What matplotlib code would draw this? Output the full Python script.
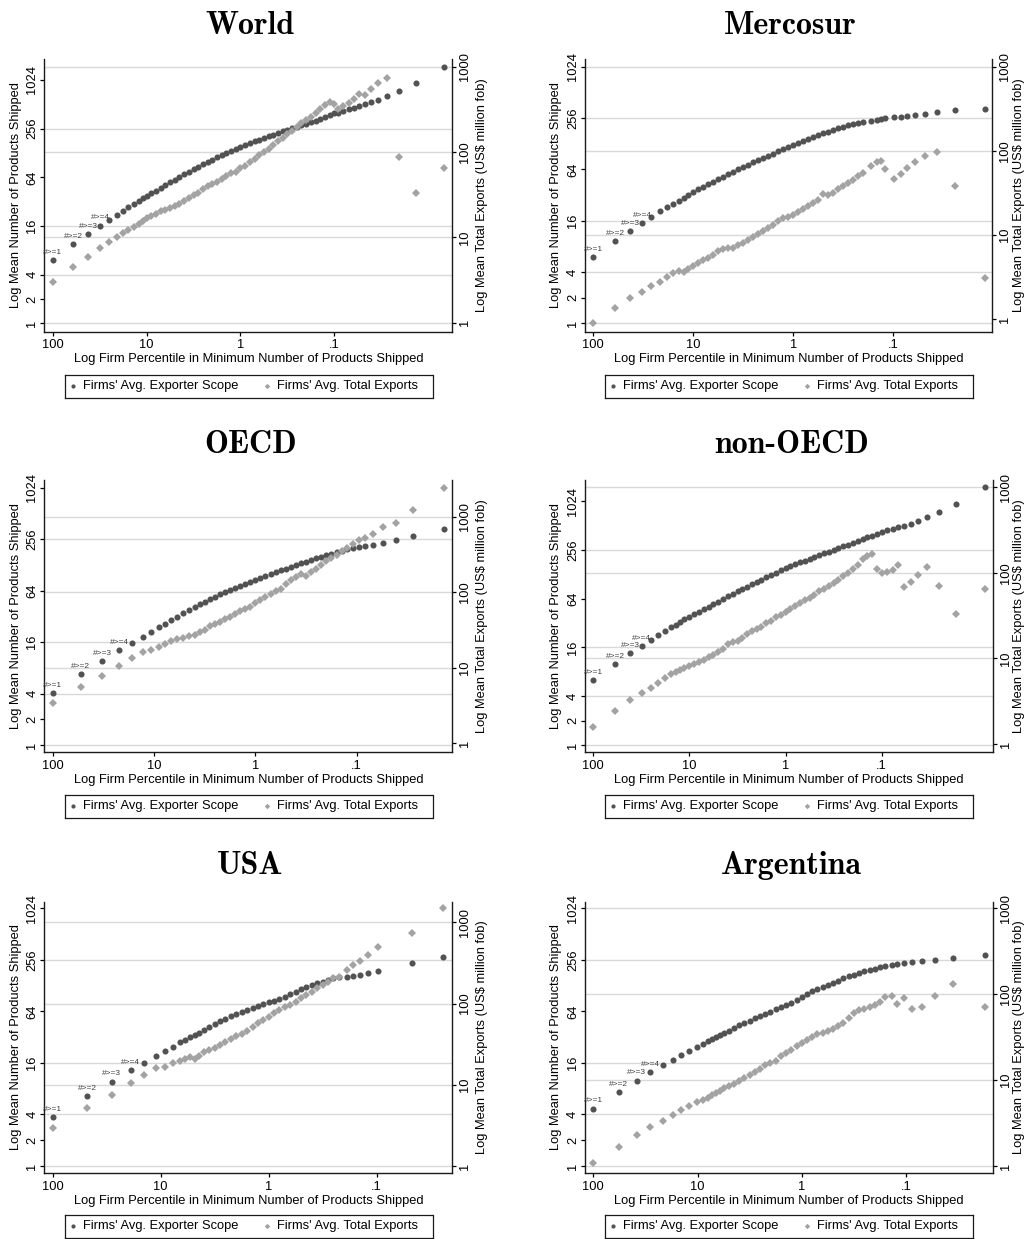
import numpy as np
import matplotlib.pyplot as plt
from matplotlib import transforms
from matplotlib.ticker import NullLocator

plt.rcParams['font.family'] = 'Liberation Sans'

W, H = 1026, 1239
DARK = '#525252'
LIGHT = '#a3a3a3'
GRID = '#d9d9d9'
FS = 9.3

mlabels = ['#>=1', '#>=2', '#>=3', '#>=4']
left_ticks = [1, 2, 4, 16, 64, 256, 1024]
left_grid = [1, 4, 16, 256]
right_ticks = [1, 10, 100, 1000]
right_grid = [10, 100, 1000]
x_ticks = [100, 10, 1, 0.1]
x_ticklabels = ['100', '10', '1', '.1']
legend_labels = ["Firms' Avg. Exporter Scope", "Firms' Avg. Total Exports"]

# ---------------- World ----------------
world_pct = [100, 60.2, 42.0, 31.3, 25.3, 20.8, 17.7, 15.6, 13.7, 12.1, 10.8,
             10, 8.91, 7.94, 7.08, 6.31, 5.62, 5.01, 4.47, 3.98, 3.55, 3.16, 2.82, 2.51, 2.24, 2.0,
             1.78, 1.58, 1.41, 1.26, 1.12, 1.0, 0.891, 0.794, 0.708, 0.631, 0.562, 0.501, 0.447,
             0.398, 0.355, 0.316, 0.282, 0.251, 0.224, 0.2, 0.178, 0.158, 0.141, 0.126, 0.112, 0.1,
             0.0923, 0.0802, 0.0698, 0.0612, 0.0542, 0.0472, 0.0407, 0.034, 0.0273, 0.0203, 0.0136, 0.00679]
world_scope = [6.07, 9.49, 12.7, 16.2, 19.0, 22.1, 24.8, 27.2, 29.9, 32.6, 35.2,
               37.6, 40.6, 43.8, 47.7, 51.4, 55.5, 59.9, 64.6, 69.7, 74.5, 80.4, 86.7, 92.7, 99.1, 105.8,
               113.1, 120.9, 128, 135.5, 143.4, 151.9, 160.8, 168.6, 178.4, 187.1, 196.2, 205.8, 215.7,
               226.3, 237.2, 248.8, 258.5, 268.4, 281.5, 292.4, 306.6, 321.5, 340.4, 360.3, 378, 396.2,
               404, 428, 448, 466, 484, 512, 542, 579, 649, 756, 940, 1497]
world_exports = [2.97, 4.53, 5.93, 7.57, 8.81, 10.0, 11.1, 12.1, 13.3, 14.3, 15.5,
                 16.7, 17.6, 18.9, 20.2, 21.1, 21.9, 23.1, 24.8, 26.9, 28.9, 31.1, 33.4, 36.5, 40.0, 42.2,
                 44.9, 48.3, 52.3, 56.2, 58.9, 64.9, 69.2, 75.7, 82.8, 91.4, 100, 109, 121,
                 133, 147, 163, 178, 196, 217, 237, 259, 284, 319, 355, 382, 365,
                 316, 346, 375, 418, 478, 466, 542, 649, 743, 88.2, 32.8, 64.4]

# ---------------- Mercosur ----------------
merc_pct = [100, 60.3, 42.7, 32.4, 26.3, 21.4, 18.2, 15.8, 14.0, 12.5, 11.2,
            10, 8.91, 7.94, 7.08, 6.31, 5.62, 5.01, 4.47, 3.98, 3.55, 3.16, 2.82, 2.51, 2.24, 2.0,
            1.78, 1.58, 1.41, 1.26, 1.12, 1.0, 0.891, 0.794, 0.708, 0.631, 0.562, 0.501, 0.447,
            0.398, 0.355, 0.316, 0.282, 0.251, 0.224, 0.2,
            0.167, 0.147, 0.134, 0.120, 0.0977, 0.0845, 0.0730, 0.0603, 0.0482, 0.0363, 0.0242, 0.0121]
merc_scope = [5.94, 9.16, 12.2, 14.9, 17.5, 20.6, 22.9, 25.1, 27.2, 29.8, 32.0,
              35.0, 37.6, 40.1, 43.1, 45.9, 49.3, 52.5, 56.4, 60.1, 64.0, 68.2, 72.6, 77.3, 81.6, 86.9,
              92.5, 97.7, 104, 110, 117, 123, 130, 138, 145, 153, 160, 169, 177,
              185, 194, 203, 210, 218, 224, 230,
              234, 243, 247, 254, 261, 265, 270, 278, 288, 301, 318, 326]
merc_exports = [0.888, 1.34, 1.76, 2.09, 2.47, 2.78, 3.13, 3.49, 3.72, 3.65, 3.97,
                4.27, 4.59, 4.99, 5.36, 5.77, 6.49, 6.86, 6.92, 7.05, 7.51, 8.09, 8.78, 9.44, 10.2, 11.0,
                12.0, 13.1, 14.5, 15.7, 16.3, 17.3, 18.5, 20.1, 21.9, 23.7, 25.8, 30.4, 30.1,
                31.8, 34.8, 38.1, 41.4, 45.0, 50.1, 55.0,
                66.6, 72.9, 75.7, 60.8, 46.2, 53.0, 61.9, 72.9, 85.9, 97.7, 38.5, 3.04]

# ---------------- OECD ----------------
oecd_pct = [100, 52.9, 32.4, 22.0, 16.4, 12.9, 10.8, 9.0, 7.85, 6.85, 5.97, 5.21,
            4.47, 3.98, 3.55, 3.16, 2.82, 2.51, 2.24, 2.0, 1.78, 1.58, 1.41, 1.26, 1.12, 1.0,
            0.891, 0.794, 0.708, 0.631, 0.562, 0.501, 0.447, 0.398, 0.355, 0.316, 0.282, 0.251,
            0.224, 0.2, 0.178, 0.158,
            0.1406, 0.1256, 0.1094, 0.0955, 0.082, 0.0685, 0.0546, 0.0409, 0.0276, 0.01374]
oecd_scope = [4.02, 6.71, 9.61, 12.8, 15.7, 18.5, 21.0, 23.8, 26.0, 28.7, 31.4, 34.7,
              37.9, 41.2, 44.2, 47.5, 51.1, 54.4, 57.9, 61.6, 65.6, 69.3, 73.1, 77.1, 81.4, 85.9,
              90.7, 94.8, 100, 105, 110, 116, 121, 126, 133, 140, 146, 153,
              160, 167, 173, 179,
              188, 196, 203, 209, 213, 219, 231, 248, 276, 333]
oecd_exports = [3.45, 5.62, 7.86, 10.7, 13.6, 16.3, 17.2, 19.0, 20.6, 22.6, 24.0, 25.0,
                26.3, 27.4, 29.4, 31.9, 35.7, 37.6, 40.7, 44.7, 47.5, 51.5, 56.4, 59.9, 64.4, 71.2,
                78.8, 85.5, 94.7, 103, 111, 127, 144, 159, 172, 162, 185, 205,
                229, 256, 287, 314,
                351, 388, 434, 491, 516, 583, 729, 824, 1224, 2416]

# ---------------- non-OECD ----------------
noecd_pct = [100, 59.0, 41.2, 31.4, 25.3, 21.1, 17.9, 15.7, 13.8, 12.5, 11.4,
             10, 8.91, 7.94, 7.08, 6.31, 5.62, 5.01, 4.47, 3.98, 3.55, 3.16, 2.82, 2.51, 2.24, 2.0,
             1.78, 1.58, 1.41, 1.26, 1.12, 1.0, 0.891, 0.794, 0.708, 0.631, 0.562, 0.501, 0.447,
             0.398, 0.355, 0.316, 0.282, 0.251, 0.224, 0.2, 0.178, 0.158, 0.141, 0.126, 0.112, 0.1,
             0.0873, 0.0768, 0.067, 0.0585, 0.0499, 0.0422, 0.0334, 0.0251, 0.017, 0.00839]
noecd_scope = [6.34, 9.99, 13.5, 16.6, 19.7, 22.8, 25.3, 28.3, 30.5, 32.9, 35.5,
               37.9, 40.9, 43.7, 47.2, 50.9, 54.9, 58.7, 63.3, 68.3, 73.0, 78.7, 84.1, 89.8, 96.0, 103,
               110, 117, 125, 134, 143, 153, 162, 169, 179, 188, 197, 209, 219,
               232, 243, 255, 267, 283, 296, 313, 329, 345, 365, 382, 401, 425,
               449, 466, 484, 508, 533, 586, 644, 756, 940, 1510]
noecd_exports = [1.59, 2.45, 3.27, 3.91, 4.55, 5.21, 5.96, 6.58, 7.00, 7.33, 7.73,
                 8.23, 8.69, 9.17, 9.67, 10.3, 11.0, 11.8, 12.8, 14.7, 15.4, 16.1, 17.2, 19.1, 21.1, 22.3,
                 23.5, 25.9, 27.6, 30.2, 32.5, 35.2, 38.2, 41.0, 44.1, 47.8, 51.3, 55.6, 60.9,
                 65.4, 70.8, 76.8, 83.3, 91.9, 100, 111, 125, 144, 159, 166, 110, 100,
                 102, 108, 122, 69.0, 78.2, 94.4, 118, 70.2, 33.1, 64.2]

# ---------------- USA ----------------
usa_pct = [100, 47.8, 28.4, 19.0, 14.2, 11.0, 9.18, 7.74, 6.62, 5.91, 5.35, 4.84, 4.45,
           3.98, 3.55, 3.16, 2.82, 2.51, 2.24, 2.0, 1.78, 1.58, 1.41, 1.26, 1.12, 1.0,
           0.891, 0.794, 0.708, 0.631, 0.562, 0.501, 0.447, 0.398, 0.355, 0.316, 0.282, 0.251, 0.224,
           0.19, 0.164, 0.143, 0.119, 0.0966, 0.0474, 0.0242]
usa_scope = [3.70, 6.57, 9.67, 13.1, 16.1, 19.5, 22.1, 24.8, 27.9, 29.7, 31.9, 33.9, 35.8,
             39.2, 42.4, 45.6, 49.0, 52.6, 56.0, 59.7, 63.5, 67.1, 70.8, 74.7, 78.1, 81.7,
             85.4, 89.3, 95.1, 101, 108, 116, 123, 130, 136, 142, 149, 156, 161,
             163, 167, 172, 181, 192, 237, 279]
usa_exports = [2.91, 5.23, 7.48, 10.5, 13.1, 15.9, 16.7, 18.7, 19.8, 20.8, 21.8, 20.6, 22.6,
               25.1, 27.0, 28.6, 30.9, 33.3, 36.3, 39.5, 42.6, 45.5, 50.9, 57.6, 62.7, 67.6,
               76.4, 84.0, 89.8, 95.0, 103, 116, 127, 140, 155, 169, 186, 204, 214,
               259, 298, 337, 396, 501, 745, 1486]

# ---------------- Argentina ----------------
arg_pct = [100, 57.1, 38.4, 28.6, 21.6, 17.3, 14.5, 12.0, 10.2, 8.94, 8.0, 7.27, 6.65, 6.09,
           5.62, 5.01, 4.47, 3.98, 3.55, 3.16, 2.82, 2.51, 2.24, 2.0, 1.78, 1.58, 1.41, 1.26, 1.12, 1.0,
           0.891, 0.794, 0.708, 0.631, 0.562, 0.501, 0.447, 0.398, 0.355, 0.316, 0.282, 0.251,
           0.224, 0.2, 0.178, 0.158,
           0.1374, 0.121, 0.1047, 0.0871, 0.0698, 0.0528, 0.0352, 0.01746]
arg_scope = [4.68, 7.32, 9.93, 12.4, 15.0, 17.5, 19.6, 22.3, 24.8, 26.9, 28.9, 30.5, 32.4, 34.2,
             36.1, 38.1, 41.0, 44.0, 46.8, 49.9, 53.1, 56.5, 60.2, 63.6, 67.7, 71.4, 75.3, 81.0, 87.0, 95.1,
             102, 110, 118, 125, 131, 139, 146, 156, 164, 172, 180, 188,
             195, 202, 209, 215,
             221, 227, 233, 240, 246, 255, 269, 295]
arg_exports = [1.07, 1.68, 2.30, 2.87, 3.34, 3.92, 4.49, 5.04, 5.61, 5.86, 6.24, 6.71, 7.02, 7.54,
               8.09, 8.54, 9.09, 9.85, 10.6, 11.4, 12.3, 13.5, 14.9, 15.8, 16.8, 19.1, 20.7, 22.6, 24.9, 27.3,
               29.0, 31.5, 34.1, 35.7, 37.3, 39.7, 42.6, 46.6, 52.4, 61.0, 65.5, 67.3,
               71.6, 75.5, 81.9, 91.9,
               95.3, 76.9, 89.5, 67.3, 71.6, 94.5, 131, 71.6]

# layout: panel origin, plot box (l, t, r, b) in px relative to origin, axis limits
panels = [
    dict(title='World', pct=world_pct, scope=world_scope, exports=world_exports,
         ox=0, oy=0, box=(44.3, 59.3, 452.3, 331.7), rlab=482,
         xlim=(122.7, 0.00554), ylim=(0.789, 1845), ylim2=(0.784, 1219)),
    dict(title='Mercosur', pct=merc_pct, scope=merc_scope, exports=merc_exports,
         ox=540, oy=0, box=(45, 59.3, 452.3, 331.7), rlab=478.6,
         xlim=(121.2, 0.01023), ylim=(0.798, 1248), ylim2=(0.707, 1223)),
    dict(title='OECD', pct=oecd_pct, scope=oecd_scope, exports=oecd_exports,
         ox=0, oy=420, box=(44.3, 60, 452.3, 332.3), rlab=482,
         xlim=(120.8, 0.01138), ylim=(0.821, 1259), ylim2=(0.760, 3055)),
    dict(title='non-OECD', pct=noecd_pct, scope=noecd_scope, exports=noecd_exports,
         ox=540, oy=420, box=(45, 60, 453.3, 332.3), rlab=478.6,
         xlim=(122.1, 0.00689), ylim=(0.812, 1860), ylim2=(0.799, 1217)),
    dict(title='USA', pct=usa_pct, scope=usa_scope, exports=usa_exports,
         ox=0, oy=840, box=(44.3, 61.7, 452.3, 333.3), rlab=482,
         xlim=(119.4, 0.01993), ylim=(0.821, 1225), ylim2=(0.812, 1795)),
    dict(title='Argentina', pct=arg_pct, scope=arg_scope, exports=arg_exports,
         ox=540, oy=840, box=(45, 61.7, 453.3, 333.3), rlab=478.6,
         xlim=(120.2, 0.01454), ylim=(0.821, 1225), ylim2=(0.821, 1194)),
]

fig = plt.figure(figsize=(W / 100, H / 100), dpi=100)


def px_rect(l, t, r, b):
    return [l / W, 1 - b / H, (r - l) / W, (b - t) / H]


def fx(x):
    return x / W


def fy(y):
    return 1 - y / H


for p in panels:
    ox, oy = p['ox'], p['oy']
    l, t, r, b = p['box']
    ax = fig.add_axes(px_rect(ox + l, oy + t, ox + r, oy + b))
    ax2 = ax.twinx()
    ax.set_xscale('log')
    ax.set_yscale('log', base=2)
    ax2.set_yscale('log')
    ax.set_xlim(*p['xlim'])
    ax.set_ylim(*p['ylim'])
    ax2.set_ylim(*p['ylim2'])

    # grid lines for both y axes, kept under the markers
    for v in left_grid:
        ax.axhline(v, color=GRID, lw=1.0, zorder=0)
    blend = transforms.blended_transform_factory(ax.transAxes, ax2.transData)
    for v in right_grid:
        ax.plot([0, 1], [v, v], transform=blend, color=GRID, lw=1.0, zorder=0)

    ax.plot(p['pct'], p['scope'], 'o', color=DARK, ms=4.4, mew=0, zorder=3)
    ax2.plot(p['pct'], p['exports'], 'D', color=LIGHT, ms=3.8, mew=0, zorder=3)

    for i, lab in enumerate(mlabels):
        ax.annotate(lab, (p['pct'][i], p['scope'][i]), xytext=(0, 3.0),
                    textcoords='offset points', ha='center', va='bottom',
                    fontsize=6, color='#404040', zorder=4)

    for s in ['top', 'right']:
        ax.spines[s].set_visible(False)
    for s in ['top', 'left', 'bottom']:
        ax2.spines[s].set_visible(False)
    for sp in (ax.spines['left'], ax.spines['bottom'], ax2.spines['right']):
        sp.set_linewidth(1.0)
        sp.set_color('#1a1a1a')

    ax.set_xticks(x_ticks)
    ax.set_xticklabels(x_ticklabels)
    ax.xaxis.set_minor_locator(NullLocator())
    ax.set_yticks(left_ticks)
    ax.set_yticklabels([str(v) for v in left_ticks], rotation=90, va='center')
    ax.yaxis.set_minor_locator(NullLocator())
    ax2.set_yticks(right_ticks)
    ax2.set_yticklabels([str(v) for v in right_ticks], rotation=90, va='center')
    ax2.yaxis.set_minor_locator(NullLocator())
    ax.tick_params(axis='x', direction='out', length=3, width=0.9, pad=2.5, labelsize=FS)
    ax.tick_params(axis='y', direction='out', length=3, width=0.9, pad=1.2, labelsize=FS)
    ax2.tick_params(axis='y', direction='out', length=3, width=0.9, pad=1.6, labelsize=FS)

    cx = ox + (l + r) / 2
    fig.text(fx(cx + 2), fy(oy + 33.5), p['title'], family='cmb10', fontsize=23,
             ha='center', va='baseline')
    fig.text(fx(cx), fy(oy + b + 27.6), 'Log Firm Percentile in Minimum Number of Products Shipped',
             fontsize=FS, ha='center', va='center')
    fig.text(fx(ox + l - 28.5), fy(oy + (t + b) / 2), 'Log Mean Number of Products Shipped',
             fontsize=FS, rotation=90, ha='center', va='center')
    fig.text(fx(ox + p['rlab']), fy(oy + (t + b) / 2), 'Log Mean Total Exports (US$ million fob)',
             fontsize=FS, rotation=90, ha='center', va='center')

    # legend box under each plot
    lw_px = 367.5
    leg = fig.add_axes(px_rect(ox + 65, oy + 374.5, ox + 65 + lw_px, oy + 397.5))
    leg.set_xlim(0, lw_px)
    leg.set_ylim(0, 23)
    leg.set_xticks([])
    leg.set_yticks([])
    for sp in leg.spines.values():
        sp.set_linewidth(0.9)
        sp.set_color('#1a1a1a')
    leg.plot([8], [11.5], 'o', color=DARK, ms=3.0, mew=0)
    leg.plot([201.7], [11.5], 'D', color=LIGHT, ms=2.8, mew=0)
    leg.text(18, 11.5, legend_labels[0], fontsize=FS, va='center', ha='left')
    leg.text(212.3, 11.5, legend_labels[1], fontsize=FS, va='center', ha='left')

fig.savefig('out.png', dpi=100)
